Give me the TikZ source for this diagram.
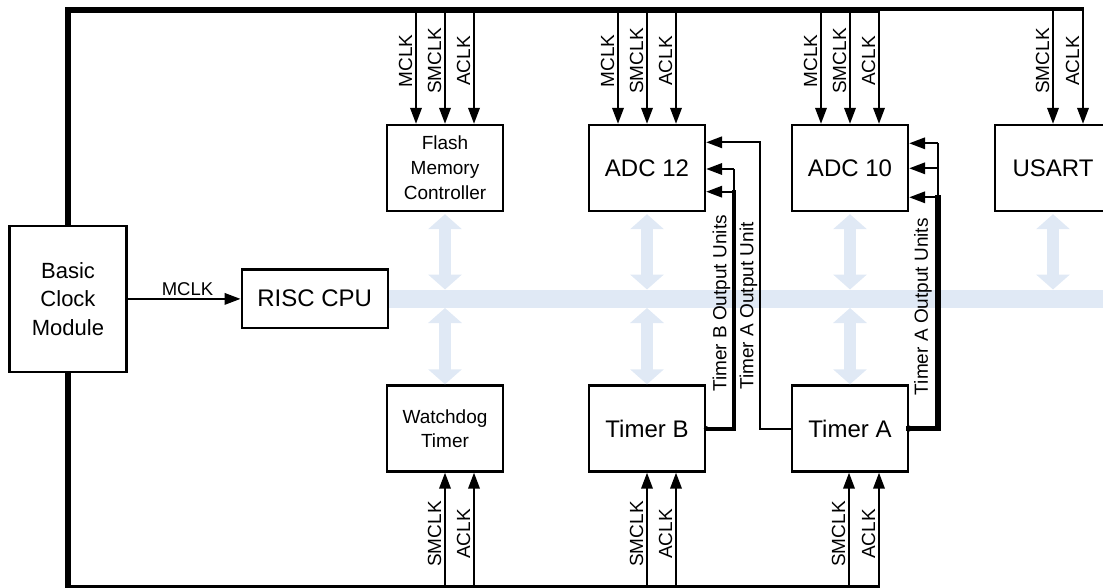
\documentclass[tikz,border=0pt]{standalone}
\usepackage{fontspec}
\setmainfont{Liberation Sans}
\usetikzlibrary{arrows.meta,calc}
\definecolor{busblue}{RGB}{224,233,245}
\tikzset{
  box/.style={draw, line width=2.4pt, inner sep=0pt, align=center, minimum width=116pt, minimum height=86pt},
  bigtext/.style={font=\fontsize{24}{29}\selectfont},
  midtext/.style={font=\fontsize{19}{25}\selectfont},
  clk/.style={line width=2pt, -{Triangle[length=16pt 0 0,width=11.5pt 0 0]}},
  wire/.style={line width=2pt},
  thickB/.style={line width=4pt, line cap=rect},
  thickA/.style={line width=5.5pt, line cap=rect},
  lbl/.style={font=\fontsize{19}{22}\selectfont, rotate=90, anchor=south, inner xsep=0pt, inner ysep=3.4pt},
  busarr/.style={busblue, line width=12pt, {Triangle[length=15pt 0 0,width=33pt 0 0]}-{Triangle[length=15pt 0 0,width=33pt 0 0]}},
}
\begin{document}
\begin{tikzpicture}[x=1pt,y=-1pt]
\useasboundingbox (0,0) rectangle (1103,587);

% helper coordinates
\coordinate (topy) at (0,9.8);
\coordinate (boty) at (0,588);
\coordinate (bt) at (0,289.5);
\coordinate (bb) at (0,308);
\coordinate (busend) at (1110,0);
\coordinate (lbly) at (0,61);
\coordinate (lbly2) at (0,534);
\coordinate (topthick) at (879,9.8);
\coordinate (tt) at (879,9);
\coordinate (topend) at (1084,9);
\coordinate (botend) at (879,588);

% blocks
\node[box, minimum width=116.7pt, minimum height=145.7pt, font=\fontsize{22}{28.3}\selectfont] (clock) at (68,298.9) {Basic\\Clock\\Module};
\node[box, minimum width=146pt, minimum height=58.4pt, bigtext] (cpu) at (314.7,298.5) {RISC CPU};
\node[box, midtext] (flash) at (445,168) {Flash\\Memory\\Controller};
\node[box, bigtext] (adc12) at (647,168) {ADC 12};
\node[box, bigtext] (adc10) at (850,168) {ADC 10};
\node[box, bigtext] (usart) at (1053,168) {USART};
\node[box, font=\fontsize{19}{23.5}\selectfont] (wdt) at (445,428.5) {Watchdog\\Timer};
\node[box, bigtext] (timerb) at (647,428.5) {Timer B};
\node[box, bigtext] (timera) at (850,428.5) {Timer A};

% data bus
\draw[busblue, line width=18pt] (cpu.east) -- (cpu.east -| busend);
\foreach \n in {flash,adc12,adc10,usart}
  \draw[busarr] ([yshift=-2pt]\n.south) -- (\n.south |- bt);
\foreach \n in {wdt,timerb,timera}
  \draw[busarr] (\n.north |- bb) -- (\n.north);

% clock distribution
\draw[line width=5.6pt] (clock.north) -- (clock.north |- topy) -- (topthick);
\draw[line width=3.5pt] (tt) -- (topend);
\draw[line width=5.6pt] (clock.south) -- (clock.south |- boty) -- (botend);
\draw[clk] (clock.east) -- (clock.east -| cpu.west);
\node[font=\fontsize{18.5}{22}\selectfont, anchor=south, inner sep=0pt] (mclk) at (187.5,295.5) {MCLK};

\foreach \n/\dx/\t in {flash/-29/MCLK, flash/0/SMCLK, flash/29/ACLK,
                       adc12/-29/MCLK, adc12/0/SMCLK, adc12/29/ACLK,
                       adc10/-29/MCLK, adc10/0/SMCLK, adc10/29/ACLK,
                       usart/0/SMCLK, usart/30/ACLK} {
  \coordinate (c) at ([xshift=\dx pt]\n.north);
  \draw[clk] (c |- topy) -- (c);
  \node[lbl] at (c |- lbly) {\t};
}
\foreach \n/\dx/\t in {wdt/0/SMCLK, wdt/29/ACLK,
                       timerb/0/SMCLK, timerb/29/ACLK,
                       timera/-1/SMCLK, timera/29/ACLK} {
  \coordinate (c) at ([xshift=\dx pt]\n.south);
  \draw[clk] (c |- boty) -- (c);
  \node[lbl] at (c |- lbly2) {\t};
}

% Timer B output units -> ADC 12
\coordinate (tb1) at (734,169);
\coordinate (tb2) at (734,191.7);
\draw[thickB] (timerb.east) -| (tb2);
\draw[wire] (tb2) -- (tb1);
\draw[clk] (tb1) -- (tb1 -| adc12.east);
\draw[clk] (tb2) -- (tb2 -| adc12.east);
\fill (timerb.east) circle[radius=2.4pt];
\node[lbl, inner ysep=3.5pt] (tbl) at (tb1 |- 0,303.5) {Timer B Output Units};

% Timer A output unit -> ADC 12
\coordinate (ta0) at (760,142.3);
\draw[clk] (timera.west) -| (ta0) -- (ta0 -| adc12.east);
\node[lbl, inner ysep=2.6pt] (tal) at (ta0 |- 0,306) {Timer A Output Unit};

% Timer A output units -> ADC 10
\coordinate (ta1) at (938,143.3);
\coordinate (ta2) at (938,168.3);
\coordinate (ta3) at (938,197.3);
\draw[thickA] (timera.east) -| (ta3);
\draw[wire] (ta3) -- (ta1);
\foreach \p in {ta1,ta2,ta3}
  \draw[clk] (\p) -- (\p -| adc10.east);
\fill (timera.east) circle[radius=3pt];
\node[lbl, inner ysep=6pt] (tar) at (ta1 |- 0,306.7) {Timer A Output Units};
\end{tikzpicture}
\end{document}
